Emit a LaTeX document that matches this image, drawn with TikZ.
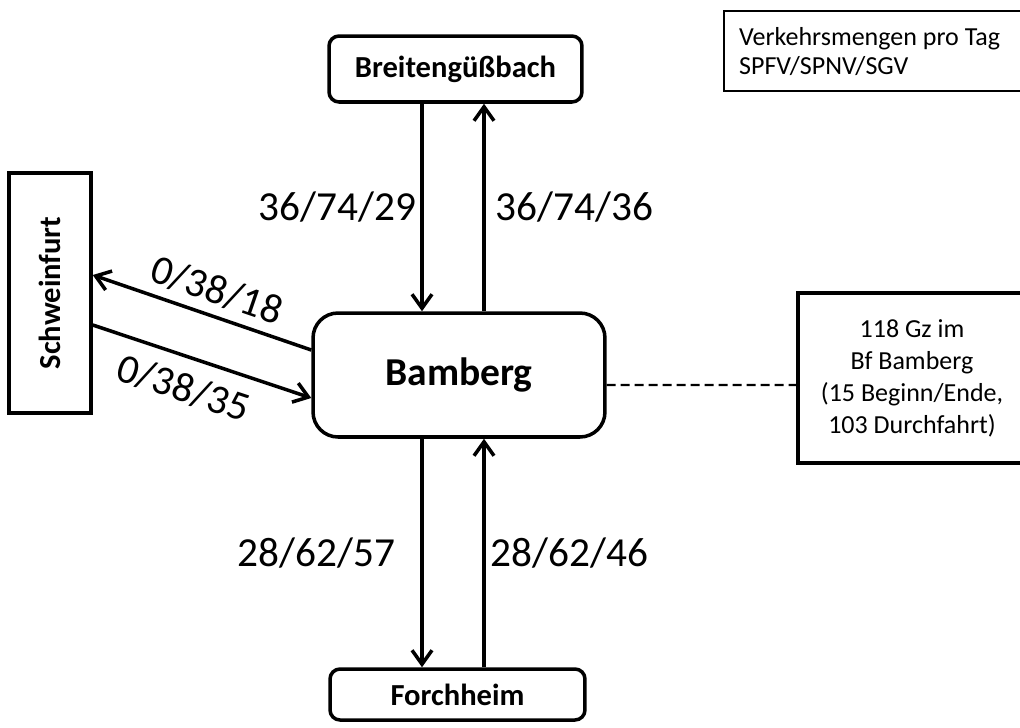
\documentclass[tikz,border=0pt]{standalone}
\usepackage{fontspec}
\setmainfont{Carlito}
\usetikzlibrary{arrows.meta, positioning}

\begin{document}
\begin{tikzpicture}[
    x=0.02cm, y=-0.02cm,
    station/.style={rectangle, draw, line width=2pt, rounded corners=0.2cm, align=center, font=\fontsize{17.4}{21}\selectfont\bfseries},
    hub/.style={rectangle, draw, line width=2pt, rounded corners=0.5cm, align=center, font=\fontsize{22.5}{27}\selectfont\bfseries, minimum width=5.84cm, minimum height=2.48cm},
    info/.style={rectangle, draw, line width=2pt, align=center, font=\fontsize{14.8}{18.2}\selectfont},
    arr/.style={-{Straight Barb[length=2.8mm, width=4mm]}, line width=2pt},
    dline/.style={line width=1.3pt, dash pattern=on 0.18cm off 0.1cm},
    lbl/.style={font=\fontsize{23.5}{28}\selectfont, inner sep=0pt}
]
    \useasboundingbox (0,0) rectangle (1020,727);
    \clip (0,0) rectangle (1020,727);

    % Knoten
    \node[hub] (bamberg) at (459,375) {Bamberg};
    \node[station, minimum width=5.06cm, minimum height=1.32cm] (breit) at (455.5,69) {Breitengüßbach};
    \node[station, minimum width=5.1cm, minimum height=1.02cm] (forch) at (457.5,694.5) {Forchheim};
    \node[station, rounded corners=0pt, minimum width=1.64cm, minimum height=4.8cm] (schw) at (50,293) {\rotatebox{90}{Schweinfurt}};
    \node[info, minimum width=4.56cm, minimum height=3.4cm] (gz) at (912,378) {118 Gz im\\Bf Bamberg\\(15 Beginn/Ende,\\103 Durchfahrt)};
    \node[info, line width=1.3pt, anchor=north west, text width=6cm, align=flush left, inner xsep=0.3cm, minimum height=1.6cm,
          font=\fontsize{14.8}{16.5}\selectfont] (legende) at (723,10) {Verkehrsmengen pro Tag\\SPFV/SPNV/SGV};

    % Anschlusspunkte an Bamberg
    \coordinate (nl) at ([xshift=-0.74cm]bamberg.north);
    \coordinate (nr) at ([xshift=0.5cm]bamberg.north);
    \coordinate (sl) at ([xshift=-0.74cm]bamberg.south);
    \coordinate (sr) at ([xshift=0.5cm]bamberg.south);

    % Nord: Breitengüßbach
    \draw[arr] (nl |- breit.south) -- node[lbl, left=0.08cm] {36/74/29} (nl);
    \draw[arr] (nr) -- node[lbl, right=0.2cm] {36/74/36} (nr |- breit.south);

    % Süd: Forchheim
    \draw[arr] (sl) -- node[lbl, left=0.5cm] {28/62/57} (sl |- forch.north);
    \draw[arr] (sr |- forch.north) -- node[lbl, right=0.1cm] {28/62/46} (sr);

    % West: Schweinfurt
    \draw[arr] ([yshift=0.5cm]bamberg.west) -- node[lbl, sloped, above=0.18cm, pos=0.47] {0/38/18} ([yshift=0.36cm]schw.east);
    \draw[arr] ([yshift=-0.64cm]schw.east) -- node[lbl, sloped, below=0.28cm, pos=0.46] {0/38/35} ([yshift=-0.46cm]bamberg.west);

    % Ost: Zugzahlen im Bahnhof
    \draw[dline] ([yshift=-0.2cm]bamberg.east) -- ([yshift=-0.14cm]gz.west);

\end{tikzpicture}
\end{document}
